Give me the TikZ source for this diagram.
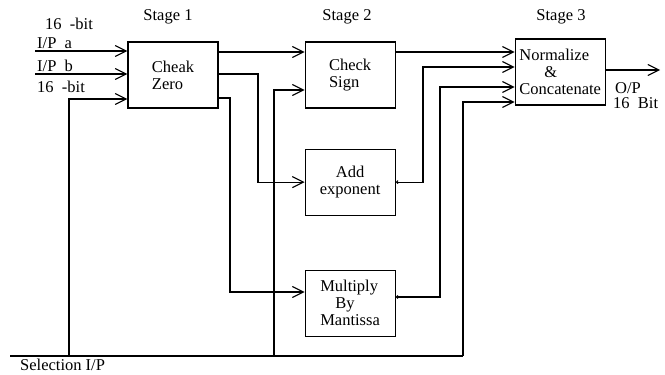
\documentclass[tikz,border=0pt]{standalone}
\usepackage{fontspec}
\setmainfont{Liberation Serif}
\usetikzlibrary{positioning,arrows.meta}
\newcommand{\dfont}{\fontsize{16.5}{17}\selectfont}
\begin{document}
\begin{tikzpicture}[
  x=1pt, y=-1pt,
  box/.style={draw, line width=1.1pt, minimum width=90pt, minimum height=66pt, inner sep=0pt, font=\dfont, align=left},
  lbl/.style={font=\dfont, inner sep=0pt},
  ln/.style={line width=1.1pt},
  arr/.style={line width=1.1pt, -{Straight Barb[length=11pt,width=11pt]}},
  tip/.style={line width=1.1pt, {Straight Barb[length=1.5pt,width=3pt]}-{Straight Barb[length=11pt,width=11pt]}}
]
\useasboundingbox (0,0) rectangle (665,375);
\node[box] (cz) at (173,75) {Cheak\\Zero};
\node[box, right=86pt of cz] (cs) {Check\\Sign};
\node[box, below=40pt of cs, align=center] (ae) {Add\\exponent};
\node[box, below=54pt of ae] (mm) {Multiply\\\hspace*{15pt}By\\Mantissa};
\node[box, right=119pt of cs, yshift=3pt] (nc) {Normalize\\\hspace*{25pt}\&\\Concatenate};
\node[lbl] (st1) at (168,17) {Stage 1};
\node[lbl] (st2) at (347,17) {Stage 2};
\node[lbl] (st3) at (561,17) {Stage 3};
\node[lbl, anchor=west] (bita) at (45,24) {16\ \ -bit};
\node[lbl, anchor=west] (ipa) at (37,43) {I/P\ \ a};
\node[lbl, anchor=west] (ipb) at (37,66) {I/P\ \ b};
\node[lbl, anchor=west] (bitb) at (37,87) {16\ \ -bit};
\node[lbl, anchor=west] (op) at (615,88) {O/P};
\node[lbl, anchor=west] (obit) at (613,103) {16\ \ Bit};
\node[lbl, anchor=west] (sel) at (20,365) {Selection I/P};
\coordinate (ina) at (35,51);
\coordinate (inb) at (35,74);
\coordinate (bus0) at (10,356);
\coordinate (bus1) at (463,356);
\coordinate (s1) at (69,356);
\coordinate (s2) at (274,356);
\coordinate (out) at (660,70);
\draw[ln] (bus0) -- (bus1);
\draw[arr] (ina) -- (ina -| cz.west);
\draw[arr] (inb) -- (inb -| cz.west);
\draw[arr] (s1) |- (cz.west |- 0,99);
\draw[arr] (cz.east |- 0,52) -- (cs.west |- 0,52);
\draw[arr] (cz.east |- 0,74) -| (ae.west -| 258,0) -- (ae.west);
\draw[arr] (cz.east |- 0,98) -| (230,292) -- (mm.west |- 0,292);
\draw[arr] (s2) |- (cs.west |- 0,90);
\draw[arr] (cs.east |- 0,52) -- (nc.west |- 0,52);
\draw[tip] (ae.east) -| (423,67) -- (nc.west |- 0,67);
\draw[tip] (mm.east |- 0,297) -| (440,87) -- (nc.west |- 0,87);
\draw[arr] (bus1) |- (nc.west |- 0,102);
\draw[arr] (nc.east |- 0,70) -- (out);
\end{tikzpicture}
\end{document}
